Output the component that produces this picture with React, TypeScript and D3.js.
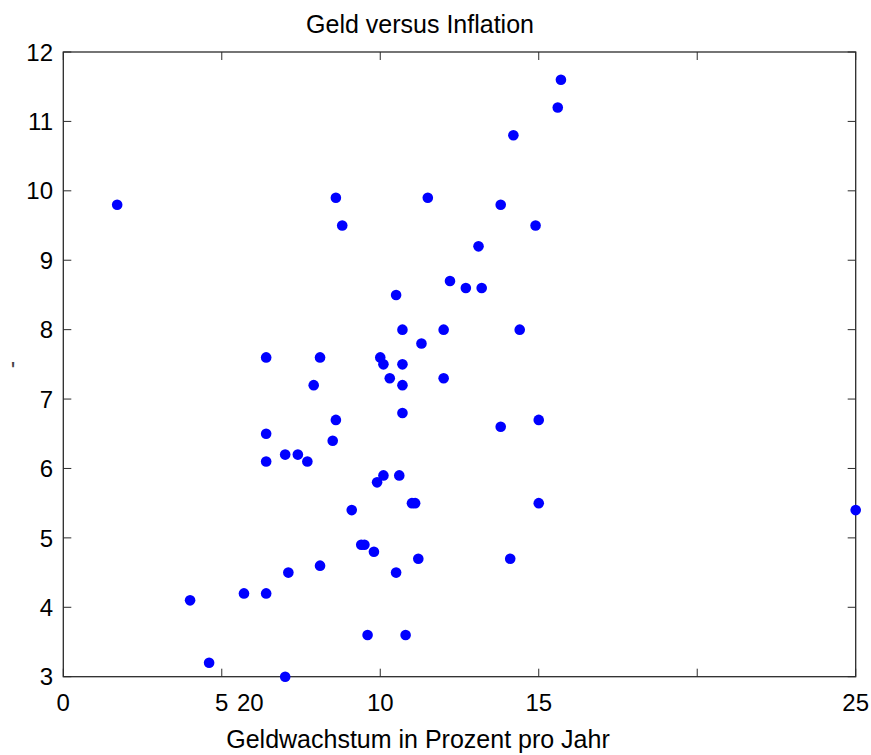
import React from "react";
import * as d3 from "d3";

const moneyGrowth = [
  1.7, 4.0, 4.6, 5.7, 6.4, 6.4, 6.4, 6.4, 7.0, 7.0, 7.1, 7.4, 7.7, 7.9, 8.1, 8.1, 8.5, 8.6, 8.6, 8.8,
  9.1, 9.4, 9.5, 9.6, 9.8, 9.9, 10.0, 10.1, 10.1, 10.3, 10.5, 10.5, 10.6, 10.7, 10.7, 10.7, 10.7, 10.8, 11.0, 11.1,
  11.2, 11.3, 11.5, 12.0, 12.0, 12.2, 12.7, 13.1, 13.2, 13.8, 13.8, 14.1, 14.2, 14.4, 14.9, 15.0, 15.0, 15.6, 15.7, 25.0,
];
const inflation = [
  9.8, 4.1, 3.2, 4.2, 4.2, 6.1, 6.5, 7.6, 3.0, 6.2, 4.5, 6.2, 6.1, 7.2, 7.6, 4.6, 6.4, 6.7, 9.9, 9.5,
  5.4, 4.9, 4.9, 3.6, 4.8, 5.8, 7.6, 5.9, 7.5, 7.3, 4.5, 8.5, 5.9, 8.0, 7.5, 7.2, 6.8, 3.6, 5.5, 5.5,
  4.7, 7.8, 9.9, 8.0, 7.3, 8.7, 8.6, 9.2, 8.6, 9.8, 6.6, 4.7, 10.8, 8.0, 9.5, 6.7, 5.5, 11.2, 11.6, 5.4,
];
const xTicks = [0, 5, 10, 15, 20, 25];
const xTickLabels = ["0", "5", "10", "15", "", "25"];
const strayLabel = "20";
const strayLabelAt = 5.9;
const yTicks = [3, 4, 5, 6, 7, 8, 9, 10, 11, 12];
const title = "Geld versus Inflation";
const xLabel = "Geldwachstum in Prozent pro Jahr";
const yLabel = "'";

const W = 871;
const H = 755;
const L = 63.3, R = 855.7, T = 52, B = 676.7;
const FONT = "Arial, 'Liberation Sans', Helvetica, sans-serif";
const FS_TICK = 24;
const FS_LABEL = 25;

export default function App() {
  React.useEffect(() => {
    document.body.style.margin = "0";
  }, []);
  const x = d3.scaleLinear().domain([0, 25]).range([L, R]);
  const y = d3.scaleLinear().domain([3, 12]).range([B, T]);
  const axisColor = "#2b2b2b";
  const tl = 8;
  const pts = d3.zip(moneyGrowth, inflation);
  return (
    <svg width={W} height={H} style={{ display: "block", background: "#fff" }} fontFamily={FONT}>
      <rect x={L} y={T} width={R - L} height={B - T} fill="#fff" stroke={axisColor} strokeWidth={1.3} />
      {xTicks.map((t, i) => (
        <g key={"xt" + i}>
          <line x1={x(t)} x2={x(t)} y1={B} y2={B - tl} stroke={axisColor} strokeWidth={1} />
          <line x1={x(t)} x2={x(t)} y1={T} y2={T + tl} stroke={axisColor} strokeWidth={1} />
          {xTickLabels[i] && (
            <text x={x(t)} y={711} textAnchor="middle" fontSize={FS_TICK} fill="#000">
              {xTickLabels[i]}
            </text>
          )}
        </g>
      ))}
      <text x={x(strayLabelAt)} y={711} textAnchor="middle" fontSize={FS_TICK} fill="#000">
        {strayLabel}
      </text>
      {yTicks.map((t, i) => (
        <g key={"yt" + i}>
          <line x1={L} x2={L + tl} y1={y(t)} y2={y(t)} stroke={axisColor} strokeWidth={1} />
          <line x1={R} x2={R - tl} y1={y(t)} y2={y(t)} stroke={axisColor} strokeWidth={1} />
          <text x={53} y={y(t)} dy="0.36em" textAnchor="end" fontSize={FS_TICK} fill="#000">
            {t}
          </text>
        </g>
      ))}
      {pts.map(([a, b], i) => (
        <circle key={"p" + i} cx={x(a)} cy={y(b)} r={5.3} fill="#0000ff" />
      ))}
      <text x={420} y={33} textAnchor="middle" fontSize={FS_LABEL} fill="#000">
        {title}
      </text>
      <text x={418} y={748} textAnchor="middle" fontSize={FS_LABEL} fill="#000">
        {xLabel}
      </text>
      <text x={13} y={379} textAnchor="middle" fontSize={FS_TICK} fill="#444">
        {yLabel}
      </text>
    </svg>
  );
}
